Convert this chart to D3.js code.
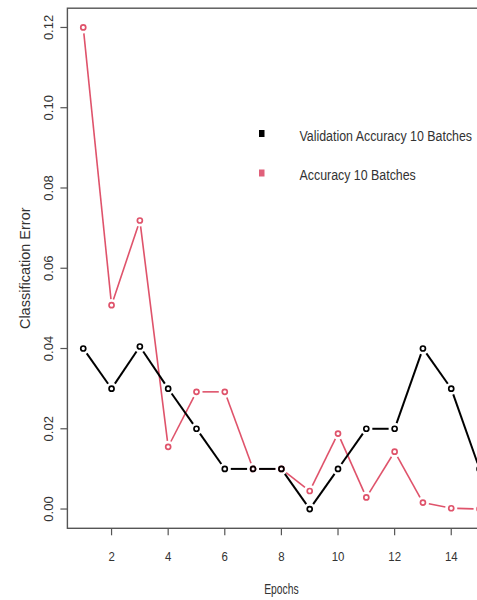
<!DOCTYPE html>
<html>
<head>
<meta charset="utf-8">
<script src="https://cdn.jsdelivr.net/npm/d3@7"></script>
<style>
  html, body { margin: 0; padding: 0; background: #fff; }
  svg { display: block; }
  text { font-family: "Liberation Sans", Arial, sans-serif; fill: #333; }
</style>
</head>
<body>
<svg id="chart" width="477" height="600"></svg>
<script>
// Training curves: classification error per epoch
const epochs = [1, 2, 3, 4, 5, 6, 7, 8, 9, 10, 11, 12, 13, 14, 15];
const validationError = [0.040, 0.030, 0.0405, 0.030, 0.020, 0.010, 0.010, 0.010, 0.000, 0.010, 0.020, 0.020, 0.040, 0.030, 0.010];
const trainingError = [0.120, 0.0508, 0.0719, 0.0155, 0.0292, 0.0292, 0.010, 0.010, 0.0045, 0.0188, 0.0029, 0.0143, 0.0016, 0.0002, 0.000];
const xTicks = [2, 4, 6, 8, 10, 12, 14];
const yTicks = [0.00, 0.02, 0.04, 0.06, 0.08, 0.10, 0.12];
const seriesNames = ["Validation Accuracy 10 Batches", "Accuracy 10 Batches"];
const seriesColors = ["#000000", "#DF536B"];

const svg = d3.select("#chart");

// R-style axis extents: data range padded by 4% on each side
const pad = (lo, hi) => [lo - 0.04 * (hi - lo), hi + 0.04 * (hi - lo)];
const x = d3.scaleLinear().domain(pad(1, 15)).range([67.4, 495.4]);
const y = d3.scaleLinear().domain(pad(0, 0.12)).range([528.3, 8.2]);

const [x0, x1] = x.range();
const [y0, y1] = y.range();

// plot frame
svg.append("rect")
  .attr("x", x0).attr("y", y1)
  .attr("width", x1 - x0).attr("height", y0 - y1)
  .attr("fill", "none").attr("stroke", "#555").attr("stroke-width", 1.4);

// y axis (rotated labels, R style)
const yAxis = svg.append("g");
yAxis.selectAll("line").data(yTicks).join("line")
  .attr("x1", x0).attr("x2", x0 - 7)
  .attr("y1", d => y(d)).attr("y2", d => y(d))
  .attr("stroke", "#555").attr("stroke-width", 1.2);
yAxis.selectAll("text").data(yTicks).join("text")
  .attr("transform", d => `translate(53,${y(d)}) rotate(-90)`)
  .attr("text-anchor", "middle")
  .attr("font-size", 13)
  .attr("fill", "#444")
  .text(d => d3.format(".2f")(d));

// x axis
const xAxis = svg.append("g");
xAxis.selectAll("line").data(xTicks).join("line")
  .attr("x1", d => x(d)).attr("x2", d => x(d))
  .attr("y1", y0).attr("y2", y0 + 7)
  .attr("stroke", "#555").attr("stroke-width", 1.2);
xAxis.selectAll("text").data(xTicks).join("text")
  .attr("transform", d => `translate(${x(d)},561) scale(0.88,1)`)
  .attr("text-anchor", "middle")
  .attr("font-size", 13)
  .attr("fill", "#444")
  .text(d => d);

// axis titles
svg.append("text")
  .attr("transform", `translate(${(x0 + x1) / 2},593.5) scale(0.74,1)`)
  .attr("text-anchor", "middle")
  .attr("font-size", 14)
  .text("Epochs");
svg.append("text")
  .attr("transform", `translate(30,${(y0 + y1) / 2}) rotate(-90)`)
  .attr("text-anchor", "middle")
  .attr("font-size", 14.5)
  .text("Classification Error");

// series drawn as R type="b": points joined by segments that stop short of each point
const gap = 6;
function drawSeries(values, color, width) {
  const pts = epochs.map((e, i) => [x(e), y(values[i])]);
  const segs = d3.pairs(pts).map(([a, b]) => {
    const dx = b[0] - a[0], dy = b[1] - a[1];
    const len = Math.hypot(dx, dy);
    if (len <= 2 * gap) return null;
    const ux = dx / len, uy = dy / len;
    return [a[0] + ux * gap, a[1] + uy * gap, b[0] - ux * gap, b[1] - uy * gap];
  }).filter(Boolean);
  const g = svg.append("g");
  g.selectAll("line").data(segs).join("line")
    .attr("x1", d => d[0]).attr("y1", d => d[1])
    .attr("x2", d => d[2]).attr("y2", d => d[3])
    .attr("stroke", color).attr("stroke-width", width);
  g.selectAll("circle").data(pts).join("circle")
    .attr("cx", d => d[0]).attr("cy", d => d[1]).attr("r", 2.5)
    .attr("fill", "none").attr("stroke", color).attr("stroke-width", 1.7);
}
drawSeries(trainingError, seriesColors[1], 1.6);
drawSeries(validationError, seriesColors[0], 2);

// legend
const legend = svg.append("g");
const legendRows = seriesNames.map((name, i) => ({ name, color: seriesColors[i], cy: 133.5 + i * 39.5 }));
legend.selectAll("rect").data(legendRows).join("rect")
  .attr("x", 259).attr("y", d => d.cy - 3.5)
  .attr("width", 5.5).attr("height", 7)
  .attr("fill", d => d.color === "#000000" ? "#000" : "#e0607a");
legend.selectAll("text").data(legendRows).join("text")
  .attr("transform", d => `translate(299.5,${d.cy + 7.3}) scale(0.8,1)`)
  .attr("font-size", 15.5)
  .attr("fill", "#222")
  .text(d => d.name);
</script>
</body>
</html>
